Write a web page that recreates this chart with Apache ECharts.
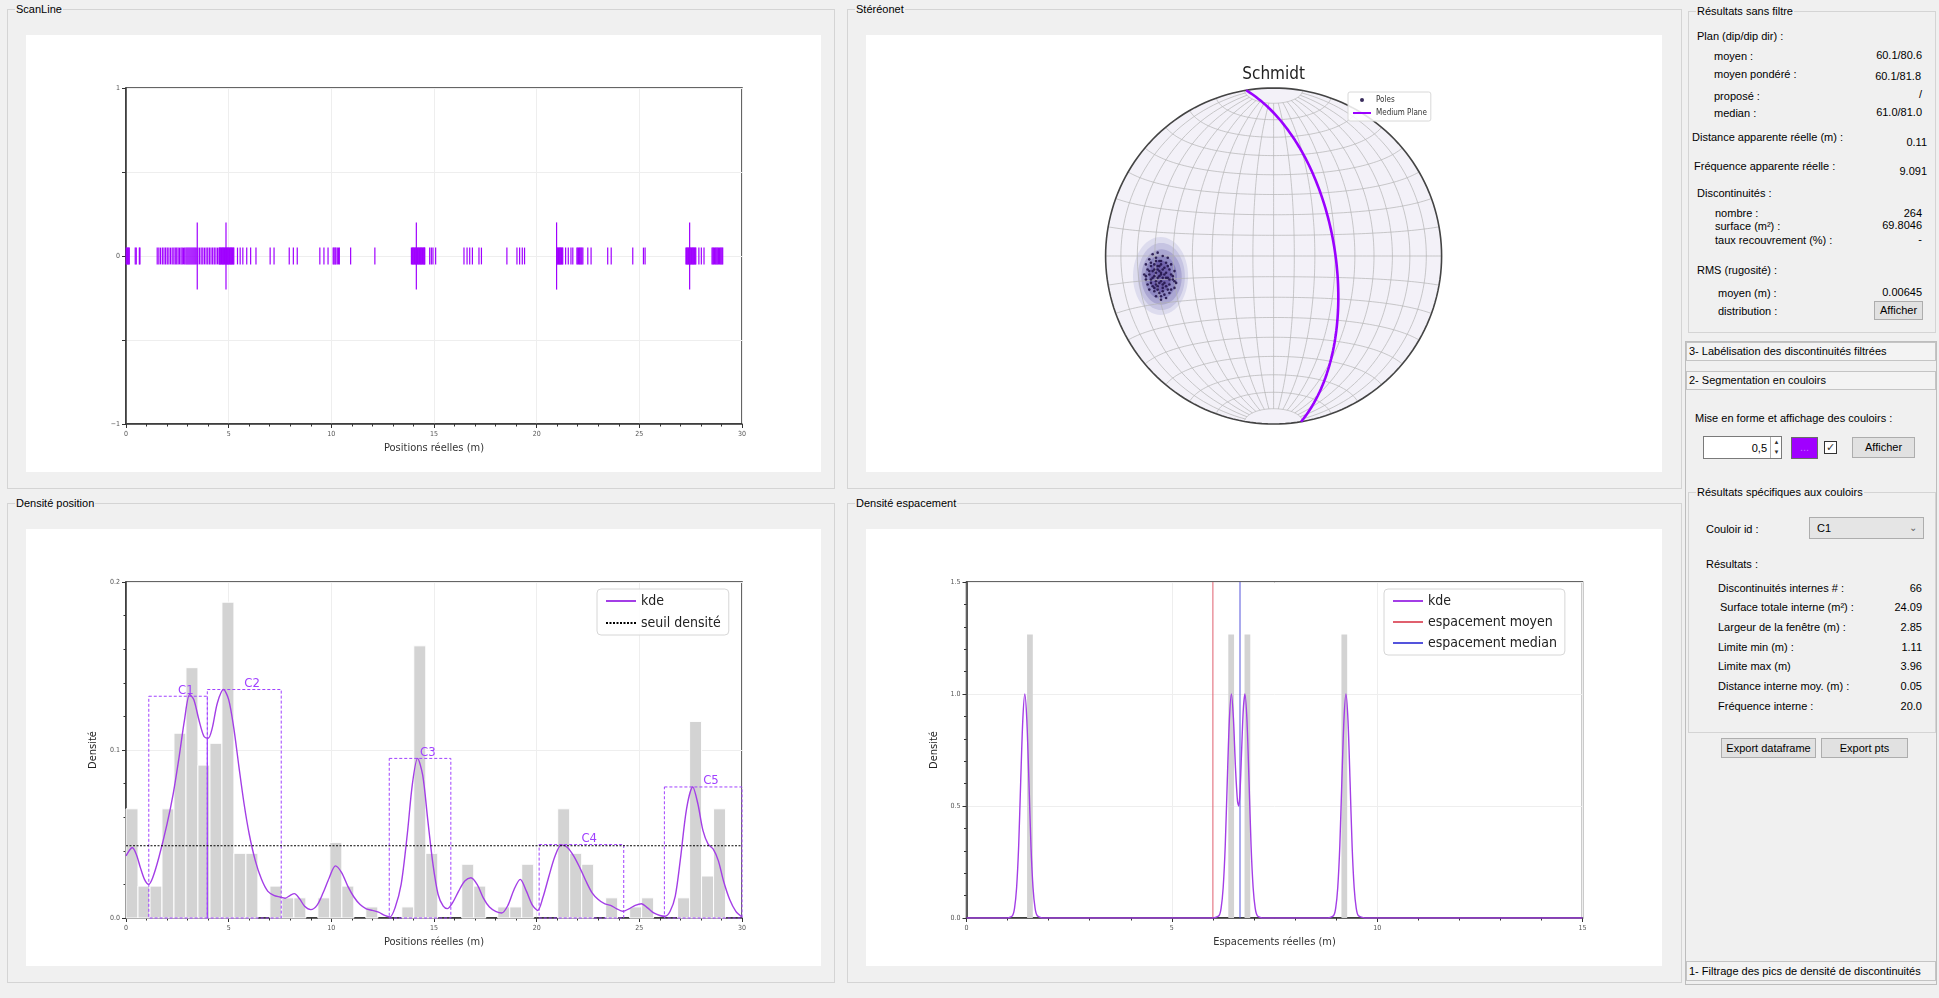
<!DOCTYPE html>
<html><head><meta charset="utf-8">
<script src="https://cdn.jsdelivr.net/npm/echarts@6/dist/echarts.min.js"></script>
<style>
html,body{margin:0;padding:0;}
body{width:1939px;height:998px;background:#f0f0f0;position:relative;overflow:hidden;font-family:"Liberation Sans",Arial,sans-serif;font-size:11px;color:#000;}
.gb{position:absolute;border:1px solid #d4d4d4;box-sizing:border-box;}
.gbt{position:absolute;left:7px;top:-8px;background:#f0f0f0;padding:0 1px;line-height:14px;white-space:nowrap;}
.chart{position:absolute;background:#fff;}
.lbl{position:absolute;white-space:nowrap;line-height:14px;transform:translateY(-7px);}
.val{position:absolute;white-space:nowrap;line-height:14px;transform:translate(-100%,-7px);}
.btn{position:absolute;border:1px solid #adadad;background:#e1e1e1;text-align:center;box-sizing:border-box;white-space:nowrap;}
.hdr{position:absolute;border:1px solid #c4c4c4;background:#f3f3f3;box-sizing:border-box;padding-left:2px;white-space:nowrap;}
</style></head>
<body>
<!-- group boxes -->
<div class="gb" style="left:7px;top:9px;width:828px;height:480px"><div class="gbt">ScanLine</div></div>
<div class="gb" style="left:847px;top:9px;width:835px;height:480px"><div class="gbt">Stéréonet</div></div>
<div class="gb" style="left:7px;top:503px;width:828px;height:480px"><div class="gbt">Densité position</div></div>
<div class="gb" style="left:847px;top:503px;width:835px;height:480px"><div class="gbt">Densité espacement</div></div>

<div id="scan" class="chart" style="left:26px;top:35px;width:795px;height:437px"></div>
<div id="stereo" class="chart" style="left:866px;top:35px;width:796px;height:437px"></div>
<div id="dpos" class="chart" style="left:26px;top:529px;width:795px;height:437px"></div>
<div id="desp" class="chart" style="left:866px;top:529px;width:796px;height:437px"></div>

<!-- right panel -->
<div class="gb" style="left:1688px;top:11px;width:248px;height:322px"><div class="gbt">Résultats sans filtre</div></div>
<div class="lbl" style="left:1697px;top:36px">Plan (dip/dip dir) :</div>
<div class="lbl" style="left:1714px;top:56px">moyen :</div><div class="val" style="left:1922px;top:55px">60.1/80.6</div>
<div class="lbl" style="left:1714px;top:74px">moyen pondéré :</div><div class="val" style="left:1921px;top:76px">60.1/81.8</div>
<div class="lbl" style="left:1714px;top:96px">proposé :</div><div class="val" style="left:1922px;top:94px">/</div>
<div class="lbl" style="left:1714px;top:113px">median :</div><div class="val" style="left:1922px;top:112px">61.0/81.0</div>
<div class="lbl" style="left:1692px;top:137px">Distance apparente réelle (m) :</div><div class="val" style="left:1927px;top:142px">0.11</div>
<div class="lbl" style="left:1694px;top:166px">Fréquence apparente réelle :</div><div class="val" style="left:1927px;top:171px">9.091</div>
<div class="lbl" style="left:1697px;top:193px">Discontinuités :</div>
<div class="lbl" style="left:1715px;top:213px">nombre :</div><div class="val" style="left:1922px;top:213px">264</div>
<div class="lbl" style="left:1715px;top:226px">surface (m²) :</div><div class="val" style="left:1922px;top:225px">69.8046</div>
<div class="lbl" style="left:1715px;top:240px">taux recouvrement (%) :</div><div class="val" style="left:1922px;top:239px">-</div>
<div class="lbl" style="left:1697px;top:270px">RMS (rugosité) :</div>
<div class="lbl" style="left:1718px;top:293px">moyen (m) :</div><div class="val" style="left:1922px;top:292px">0.00645</div>
<div class="lbl" style="left:1718px;top:311px">distribution :</div>
<div class="btn" style="left:1874px;top:301px;width:49px;height:19px;line-height:17px">Afficher</div>

<div style="position:absolute;left:1685px;top:341px;width:252px;height:644px;border:1px solid #bdbdbd;box-sizing:border-box"></div>
<div class="hdr" style="left:1686px;top:342px;width:250px;height:19px;line-height:17px">3- Labélisation des discontinuités filtrées</div>
<div class="hdr" style="left:1686px;top:371px;width:250px;height:19px;line-height:17px">2- Segmentation en couloirs</div>
<div class="lbl" style="left:1695px;top:418px">Mise en forme et affichage des couloirs :</div>
<div style="position:absolute;left:1703px;top:436px;width:79px;height:23px;background:#fff;border:1px solid #7a7a7a;box-sizing:border-box"></div>
<div class="val" style="left:1767px;top:448px">0,5</div>
<div style="position:absolute;left:1770px;top:437px;width:11px;height:21px;border-left:1px solid #b0b0b0;font-size:6px;line-height:10px;text-align:center;color:#333">▲<br>▼</div>
<div style="position:absolute;left:1791px;top:437px;width:27px;height:22px;background:#a000ff;border:1px solid #6a6a6a;box-sizing:border-box;color:#c070ff;text-align:center;line-height:18px">...</div>
<div style="position:absolute;left:1824px;top:441px;width:13px;height:13px;border:1px solid #333;background:#fff;box-sizing:border-box;font-size:11px;line-height:11px;text-align:center;color:#333">✓</div>
<div class="btn" style="left:1852px;top:437px;width:63px;height:21px;line-height:19px">Afficher</div>

<div class="gb" style="left:1688px;top:492px;width:248px;height:241px"><div class="gbt">Résultats spécifiques aux couloirs</div></div>
<div class="lbl" style="left:1706px;top:529px">Couloir id :</div>
<div class="btn" style="left:1809px;top:517px;width:115px;height:22px;background:#e5e5e5;text-align:left;padding-left:7px;line-height:20px">C1<span style="position:absolute;right:6px;top:0;color:#666;font-size:10px">&#8964;</span></div>
<div class="lbl" style="left:1706px;top:564px">Résultats :</div>
<div class="lbl" style="left:1718px;top:588px">Discontinuités internes # :</div><div class="val" style="left:1922px;top:588px">66</div>
<div class="lbl" style="left:1720px;top:607px">Surface totale interne (m²) :</div><div class="val" style="left:1922px;top:607px">24.09</div>
<div class="lbl" style="left:1718px;top:627px">Largeur de la fenêtre (m) :</div><div class="val" style="left:1922px;top:627px">2.85</div>
<div class="lbl" style="left:1718px;top:647px">Limite min (m) :</div><div class="val" style="left:1922px;top:647px">1.11</div>
<div class="lbl" style="left:1718px;top:666px">Limite max (m)</div><div class="val" style="left:1922px;top:666px">3.96</div>
<div class="lbl" style="left:1718px;top:686px">Distance interne moy. (m) :</div><div class="val" style="left:1922px;top:686px">0.05</div>
<div class="lbl" style="left:1718px;top:706px">Fréquence interne :</div><div class="val" style="left:1922px;top:706px">20.0</div>
<div class="btn" style="left:1721px;top:738px;width:95px;height:20px;line-height:18px">Export dataframe</div>
<div class="btn" style="left:1821px;top:738px;width:87px;height:20px;line-height:18px">Export pts</div>
<div class="hdr" style="left:1686px;top:961px;width:250px;height:20px;line-height:18px">1- Filtrage des pics de densité de discontinuités</div>

<script>
// ---------------- DATA ----------------
// ScanLine: visible discontinuity positions (m)
const scanPositions = [
 0.01,0.04,0.07,0.1,0.13,0.16,0.45,0.5,0.65,0.68,
 1.52,1.6,1.68,1.77,1.85,1.93,2.01,2.09,2.17,2.25,2.33,2.4,2.47,2.54,2.61,2.68,2.74,2.8,2.86,2.92,2.97,
 3.02,3.07,3.12,3.17,3.22,3.27,3.32,3.37,3.42,3.5,3.58,3.66,3.74,3.82,3.9,3.98,4.06,4.14,4.22,4.3,4.38,4.46,
 4.53,4.56,4.59,4.62,4.65,4.68,4.71,4.74,4.77,4.8,4.83,4.86,4.89,4.92,4.95,4.98,5.01,5.04,5.07,5.1,5.13,5.16,5.19,5.22,5.25,
 5.43,5.56,5.69,5.88,6.07,6.33,7.02,7.21,7.95,8.15,8.34,9.44,9.64,9.84,
 10.09,10.13,10.18,10.22,10.29,10.35,10.39,10.94,12.12,
 13.9,13.93,13.96,13.99,14.02,14.05,14.08,14.11,14.14,14.17,14.2,14.23,14.26,14.29,14.32,14.35,14.38,14.41,14.44,14.47,14.5,14.53,14.55,
 14.79,14.87,14.95,15.08,16.46,16.61,16.74,16.87,17.19,17.31,18.55,19.04,19.17,19.3,19.41,
 20.97,21.0,21.03,21.06,21.09,21.12,21.15,21.18,21.21,21.24,21.27,21.41,21.54,21.67,21.76,
 21.96,22.0,22.04,22.08,22.12,22.16,22.2,22.25,22.49,22.65,23.46,23.63,24.68,25.2,25.28,
 27.27,27.3,27.33,27.36,27.39,27.42,27.45,27.48,27.51,27.54,27.57,27.6,27.63,27.66,27.69,27.72,27.75,
 27.9,28.02,28.15,28.54,28.58,28.62,28.66,28.7,28.74,28.78,28.82,28.86,28.9,28.94,28.98,29.02,29.06
];
const scanMarkers = [3.47, 4.87, 14.14, 20.97, 27.45];

// Densité position
const histStart = 0;
const histBinWidth = 0.584;
const histDensity = [0.065,0.019,0.019,0.065,0.110,0.149,0.091,0.104,0.188,0.0385,
 0.0385,0,0.019,0.012,0.012,0,0.012,0.045,0.019,0,
 0.0066,0,0,0.0066,0.162,0.0385,0,0,0.032,0.019,
 0,0.0066,0.0066,0.032,0,0,0.065,0.0385,0.032,0,
 0.012,0,0.0066,0.012,0,0,0.012,0.117,0.025,0.065];
const kdeX = [0,0.15,0.3,0.5,0.7,0.9,1.1,1.3,1.6,2.0,2.3,2.6,2.85,3.1,3.3,3.55,3.8,4.0,4.2,4.45,4.75,5.0,5.25,5.5,5.75,6.0,6.3,6.6,6.9,7.2,7.5,7.75,8.0,8.2,8.45,8.7,9.0,9.3,9.6,9.9,10.2,10.5,10.8,11.1,11.4,11.7,12.0,12.3,12.6,12.85,13.1,13.4,13.7,13.95,14.2,14.45,14.7,14.95,15.2,15.45,15.65,15.9,16.2,16.5,16.8,17.1,17.4,17.7,18.0,18.3,18.6,18.9,19.2,19.5,19.8,20.05,20.3,20.6,20.9,21.2,21.5,21.8,22.1,22.4,22.7,23.0,23.3,23.6,23.9,24.2,24.5,24.8,25.1,25.4,25.7,26.0,26.25,26.5,26.75,27.0,27.3,27.6,27.85,28.1,28.35,28.6,28.85,29.1,29.4,29.7,30.0];
const kdeY = [0.037,0.040,0.042,0.038,0.030,0.023,0.020,0.024,0.036,0.056,0.074,0.097,0.118,0.133,0.130,0.118,0.108,0.107,0.113,0.128,0.136,0.130,0.113,0.090,0.068,0.050,0.034,0.023,0.016,0.0135,0.0125,0.0118,0.0135,0.0145,0.0115,0.007,0.005,0.0075,0.015,0.024,0.031,0.027,0.019,0.0125,0.008,0.0055,0.0045,0.0035,0.0015,0.0006,0.006,0.02,0.05,0.08,0.095,0.085,0.058,0.032,0.014,0.007,0.0056,0.009,0.016,0.022,0.024,0.02,0.012,0.0065,0.004,0.003,0.0075,0.017,0.023,0.016,0.0075,0.0045,0.012,0.025,0.037,0.0435,0.042,0.037,0.030,0.022,0.015,0.011,0.0085,0.0075,0.0055,0.004,0.0055,0.0075,0.0085,0.006,0.003,0.0015,0.001,0.004,0.013,0.035,0.065,0.078,0.068,0.052,0.044,0.041,0.034,0.022,0.011,0.004,0.0006];
const seuilDensite = 0.043;
const couloirNames = ['C1','C2','C3','C4','C5'];
const couloirMin = [1.11, 3.96, 12.82, 20.12, 26.22];
const couloirMax = [3.96, 7.56, 15.82, 24.24, 30.0];
const couloirTop = [0.132, 0.136, 0.095, 0.0437, 0.078];
const separatorX = 3.96, separatorTop = 0.107;

// Densité espacement
const spacingValues = [1.545, 6.445, 6.84, 9.2];
const spacingDensity = [1.266, 1.266, 1.266, 1.266];
const spacingBinWidth = 0.14;
const espKdeX = [0,1.0,1.12,1.17,1.22,1.27,1.32,1.37,1.42,1.47,1.52,1.57,1.62,1.67,1.72,1.85,
 6.0,6.15,6.2,6.25,6.3,6.35,6.4,6.45,6.5,6.55,6.6,6.63,6.66,6.7,6.74,6.78,6.83,6.88,6.93,6.98,7.03,7.08,7.2,
 8.8,8.94,8.99,9.04,9.09,9.14,9.19,9.24,9.29,9.34,9.39,9.44,9.49,9.54,9.7,15];
const espKdeY = [0,0,0.011,0.044,0.135,0.32,0.61,0.88,1.0,0.88,0.61,0.32,0.135,0.044,0.011,0,
 0,0.011,0.044,0.135,0.32,0.61,0.88,1.0,0.89,0.67,0.52,0.5,0.56,0.75,0.93,1.0,0.88,0.61,0.32,0.135,0.044,0.011,0,
 0,0.011,0.044,0.135,0.32,0.61,0.88,1.0,0.88,0.61,0.32,0.135,0.044,0.011,0,0];
const espacementMoyen = 6.0;
const espacementMedian = 6.66;

// Stéréonet
const planDip = 60.1, planDipDir = 80.6;
const polesXY = [[-0.72,0.01],[-0.69,0.02],[-0.66,0.0],[-0.63,-0.01],[-0.74,-0.02],[-0.70,-0.03],[-0.67,-0.03],[-0.64,-0.04],[-0.61,-0.05],[-0.76,-0.05],
 [-0.73,-0.06],[-0.71,-0.05],[-0.68,-0.06],[-0.65,-0.07],[-0.62,-0.08],[-0.59,-0.09],[-0.75,-0.08],[-0.72,-0.09],[-0.69,-0.08],[-0.67,-0.10],
 [-0.64,-0.10],[-0.61,-0.11],[-0.77,-0.11],[-0.74,-0.11],[-0.71,-0.12],[-0.68,-0.12],[-0.66,-0.13],[-0.63,-0.13],[-0.60,-0.14],[-0.58,-0.16],
 [-0.76,-0.14],[-0.73,-0.14],[-0.70,-0.15],[-0.67,-0.15],[-0.65,-0.16],[-0.62,-0.17],[-0.59,-0.19],[-0.75,-0.17],[-0.72,-0.18],[-0.69,-0.18],
 [-0.66,-0.19],[-0.63,-0.20],[-0.74,-0.20],[-0.71,-0.21],[-0.68,-0.22],[-0.65,-0.23],[-0.62,-0.22],[-0.70,-0.24],[-0.67,-0.26],[-0.64,-0.25],
 [-0.70,-0.10],[-0.69,-0.13],[-0.67,-0.11],[-0.66,-0.08],[-0.68,-0.09],[-0.71,-0.08],[-0.72,-0.13],[-0.70,-0.17],[-0.68,-0.16],[-0.66,-0.17],
 [-0.64,-0.13],[-0.65,-0.11],[-0.69,-0.06],[-0.67,-0.05],[-0.73,-0.04],[-0.62,-0.14],[-0.71,-0.19],[-0.69,-0.20],[-0.73,-0.16],[-0.60,-0.12],
 [-0.63,-0.06],[-0.66,-0.21],[-0.68,-0.03],[-0.74,-0.09],[-0.61,-0.20],[-0.59,-0.15],[-0.64,-0.18],[-0.70,-0.01],[-0.76,-0.12],[-0.67,-0.24]];
const contourCx = [-0.673,-0.668,-0.667,-0.670,-0.675];
const contourCy = [-0.119,-0.122,-0.125,-0.125,-0.120];
const contourRx = [0.164,0.140,0.120,0.095,0.065];
const contourRy = [0.232,0.200,0.165,0.130,0.095];

// ---------------- STYLE / HELPERS ----------------
const MPL = '"DejaVu Sans Condensed","DejaVu Sans",sans-serif';
const contourColors = ['#dddcee','#c6c4e2','#aaa6d2','#8e88c2','#7062ac'];
const PURPLE = '#a000ff';
const KDE = '#a33ee6';
const noSym = {opacity:0};

function xAx(min,max,interval,name){
  return {type:'value',min,max,interval,name,nameLocation:'middle',nameGap:19,
    nameTextStyle:{fontFamily:MPL,fontSize:11,color:'#333'},
    axisLine:{show:true,onZero:false,lineStyle:{color:'#333',width:1.5}},
    axisTick:{show:true,length:4,lineStyle:{color:'#333'}},
    minorTick:{show:true,splitNumber:5,length:2.5,lineStyle:{color:'#333'}},
    axisLabel:{fontFamily:MPL,fontSize:7,color:'#555',margin:7},
    splitLine:{show:true,lineStyle:{color:'#eeeeee',width:1}}};
}
function yAx(min,max,interval,name,fmt,minor){
  return {type:'value',min,max,interval,name,nameLocation:'middle',nameGap:27,nameRotate:90,
    nameTextStyle:{fontFamily:MPL,fontSize:11,color:'#222'},
    axisLine:{show:true,onZero:false,lineStyle:{color:'#333',width:1.5}},
    axisTick:{show:true,length:4,lineStyle:{color:'#333'}},
    minorTick:{show:!!minor,splitNumber:5,length:2.5,lineStyle:{color:'#333'}},
    axisLabel:{fontFamily:MPL,fontSize:7,color:'#555',margin:6,formatter:fmt},
    splitLine:{show:true,lineStyle:{color:'#eeeeee',width:1}}};
}
const gridBox = {show:true,borderColor:'#333',borderWidth:1.5,top:53,bottom:48};
const legendBase = {orient:'vertical',top:60,itemWidth:30,itemHeight:12,
    padding:[5,8,5,8],textStyle:{fontFamily:MPL,fontSize:14,color:'#222'},
    backgroundColor:'rgba(255,255,255,0.85)',borderColor:'#d6d6d6',borderWidth:1,borderRadius:4};

// ---------------- SCANLINE ----------------
function tickSeries(data, half, width){
  return {type:'custom',silent:true,clip:false,encode:{x:0,y:1},
    data:data.map(v=>[v,0]),
    renderItem:(p,api)=>{const x=api.value(0);const a=api.coord([x,-half]);const b=api.coord([x,half]);
      return {type:'line',shape:{x1:a[0],y1:a[1],x2:b[0],y2:b[1]},style:{stroke:PURPLE,lineWidth:width}};}};
}
echarts.init(document.getElementById('scan')).setOption({
  animation:false,
  grid:Object.assign({left:100,right:79},gridBox),
  xAxis:xAx(0,30,5,'Positions réelles (m)'),
  yAxis:yAx(-1,1,0.5,'',v=>v===1?'1':(v===0?'0':(v===-1?'\u22121':''))),
  series:[tickSeries(scanPositions,0.05,1.2), tickSeries(scanMarkers,0.2,1.2)]
});

// ---------------- DENSITE POSITION ----------------
echarts.init(document.getElementById('dpos')).setOption({
  animation:false,
  grid:Object.assign({left:100,right:79},gridBox),
  xAxis:xAx(0,30,5,'Positions réelles (m)'),
  yAxis:yAx(0,0.2,0.1,'Densité',v=>v.toFixed(1),true),
  legend:Object.assign({data:[{name:'kde',itemStyle:noSym},{name:'seuil densité',itemStyle:noSym}],left:571,itemGap:8},legendBase),
  series:[
    {type:'custom',silent:true,encode:{x:0,y:1},z:1,
     data:histDensity.map((h,i)=>[histStart+i*histBinWidth,h]).filter(d=>d[1]>0),
     renderItem:(p,api)=>{const h=api.value(1);const x0=api.value(0);
       const a=api.coord([x0,0]),b=api.coord([x0+histBinWidth,h]);
       return {type:'rect',shape:{x:a[0],y:b[1],width:b[0]-a[0],height:a[1]-b[1]},style:{fill:'#d3d3d3',stroke:'#ffffff',lineWidth:1}};}},
    {type:'custom',silent:true,encode:{x:0,y:2},z:3,clip:false,
     data:couloirNames.map((n,i)=>[couloirMin[i],couloirMax[i],couloirTop[i]]),
     renderItem:(p,api)=>{const x0=api.value(0),x1=api.value(1),t=api.value(2);
       const a=api.coord([x0,0]),b=api.coord([x1,t]);const cx=api.coord([(x0+x1)/2,t]);
       return {type:'group',children:[
         {type:'rect',shape:{x:a[0],y:b[1],width:b[0]-a[0],height:a[1]-b[1]},style:{fill:'none',stroke:'#a040ff',lineWidth:1,lineDash:[3,2]}},
         {type:'text',x:cx[0],y:cx[1]-6,style:{text:couloirNames[p.dataIndex],fill:'#a040ff',font:'13px '+MPL,align:'left',verticalAlign:'middle',textAlign:'left',textVerticalAlign:'middle'}}]};}},
    {type:'line',silent:true,symbol:'none',z:4,data:[[separatorX,0],[separatorX,separatorTop]],lineStyle:{color:'#a040ff',width:1}},
    {name:'kde',type:'line',symbol:'none',smooth:0.3,z:5,data:kdeX.map((x,i)=>[x,kdeY[i]]),lineStyle:{color:KDE,width:1.4},itemStyle:{color:KDE}},
    {name:'seuil densité',type:'line',symbol:'none',z:5,data:[[0,seuilDensite],[30,seuilDensite]],lineStyle:{color:'#000',width:1,type:[2,1.5]},itemStyle:{color:'#000'}}
  ]
});

// ---------------- DENSITE ESPACEMENT ----------------
echarts.init(document.getElementById('desp')).setOption({
  animation:false,
  grid:Object.assign({left:100.5,right:79.5},gridBox),
  xAxis:xAx(0,15,5,'Espacements réelles (m)'),
  yAxis:yAx(0,1.5,0.5,'Densité',v=>v.toFixed(1),true),
  legend:Object.assign({data:[{name:'kde',itemStyle:noSym},{name:'espacement moyen',itemStyle:noSym},{name:'espacement median',itemStyle:noSym}],left:518,itemGap:7},legendBase),
  series:[
    {type:'custom',silent:true,encode:{x:0,y:1},z:1,
     data:spacingValues.map((v,i)=>[v,spacingDensity[i]]),
     renderItem:(p,api)=>{const c=api.value(0),h=api.value(1);
       const a=api.coord([c-spacingBinWidth/2,0]),b=api.coord([c+spacingBinWidth/2,h]);
       return {type:'rect',shape:{x:a[0],y:b[1],width:b[0]-a[0],height:a[1]-b[1]},style:{fill:'#d3d3d3'}};}},
    {name:'espacement moyen',type:'line',symbol:'none',z:4,data:[[espacementMoyen,0],[espacementMoyen,1.5]],lineStyle:{color:'#e0606e',width:1},itemStyle:{color:'#e0606e'}},
    {name:'espacement median',type:'line',symbol:'none',z:4,data:[[espacementMedian,0],[espacementMedian,1.5]],lineStyle:{color:'#5454dc',width:1},itemStyle:{color:'#5454dc'}},
    {name:'kde',type:'line',symbol:'none',smooth:0.25,z:5,data:espKdeX.map((x,i)=>[x,espKdeY[i]]),lineStyle:{color:KDE,width:1.4},itemStyle:{color:KDE}}
  ]
});

// ---------------- STEREONET ----------------
const D2R = Math.PI/180;
function netXY(lon,lat){const l=lon*D2R,p=lat*D2R;const k=Math.sqrt(1+Math.cos(p)*Math.cos(l));return [Math.cos(p)*Math.sin(l)/k,Math.sin(p)/k];}
function planeCurve(dipdir,dip){
  const s=(dipdir-90)*D2R,dd=dipdir*D2R,d=dip*D2R;
  const sv=[Math.sin(s),Math.cos(s),0],dv=[Math.sin(dd)*Math.cos(d),Math.cos(dd)*Math.cos(d),Math.sin(d)];
  const pts=[];
  for(let a=0;a<=180;a+=2){const c=Math.cos(a*D2R),sn=Math.sin(a*D2R);
    const e=c*sv[0]+sn*dv[0],n=c*sv[1]+sn*dv[1],dn=c*sv[2]+sn*dv[2];
    const pl=Math.asin(Math.max(-1,Math.min(1,dn)));const tr=Math.atan2(e,n);
    const r=Math.SQRT2*Math.sin((Math.PI/2-pl)/2);
    pts.push([r*Math.sin(tr),r*Math.cos(tr)]);}
  return pts;
}
const stereo = echarts.init(document.getElementById('stereo'));
stereo.setOption({
  animation:false,
  grid:{left:239.6,top:53,width:336,height:336},
  xAxis:{type:'value',min:-1,max:1,show:false},
  yAxis:{type:'value',min:-1,max:1,show:false},
  graphic:[{type:'text',x:407.6,y:40,style:{text:'Schmidt',font:'17px '+MPL,fill:'#222',align:'center',verticalAlign:'middle',textAlign:'center',textVerticalAlign:'middle'}}],
  legend:{data:['Poles',{name:'Medium Plane',itemStyle:noSym}],orient:'vertical',left:482,top:57,itemWidth:18,itemHeight:4,itemGap:5,
    padding:[4,4,4,4],textStyle:{fontFamily:MPL,fontSize:8,color:'#333'},
    backgroundColor:'rgba(255,255,255,0.85)',borderColor:'#d8d8d8',borderWidth:1,borderRadius:2},
  series:[
    {type:'custom',silent:true,clip:false,encode:{x:0,y:1},z:1,data:[[0,0]],
     renderItem:(p,api)=>{
       const ch=[];const C=pts=>pts.map(q=>api.coord(q));
       const circ=[];for(let a=0;a<=360;a+=2)circ.push([Math.cos(a*D2R),Math.sin(a*D2R)]);
       ch.push({type:'polygon',shape:{points:C(circ)},style:{fill:'#f3f1f8'}});
       contourCx.forEach((cx,i)=>{const e=[];for(let a=0;a<360;a+=6)e.push([cx+contourRx[i]*Math.cos(a*D2R),contourCy[i]+contourRy[i]*Math.sin(a*D2R)]);
         ch.push({type:'polygon',shape:{points:C(e)},style:{fill:contourColors[i]}});});
       for(let lon=-80;lon<=80;lon+=10){const pts=[];for(let lat=-80;lat<=80;lat+=2)pts.push(netXY(lon,lat));
         ch.push({type:'polyline',shape:{points:C(pts)},style:{stroke:'#b3b3b3',lineWidth:0.7,fill:null}});}
       for(let lat=-80;lat<=80;lat+=10){const pts=[];for(let lon=-90;lon<=90;lon+=2)pts.push(netXY(lon,lat));
         ch.push({type:'polyline',shape:{points:C(pts)},style:{stroke:'#b3b3b3',lineWidth:0.7,fill:null}});}
       ch.push({type:'polyline',shape:{points:C(circ)},style:{stroke:'#444',lineWidth:1.6,fill:null}});
       return {type:'group',children:ch};}},
    {name:'Medium Plane',type:'line',symbol:'none',z:3,data:planeCurve(planDipDir,planDip),lineStyle:{color:'#9a00ff',width:2.6},itemStyle:{color:'#9a00ff'}},
    {name:'Poles',type:'scatter',z:4,symbolSize:2.6,data:polesXY,itemStyle:{color:'#24154a',opacity:0.9}}
  ]
});
</script>
</body></html>
